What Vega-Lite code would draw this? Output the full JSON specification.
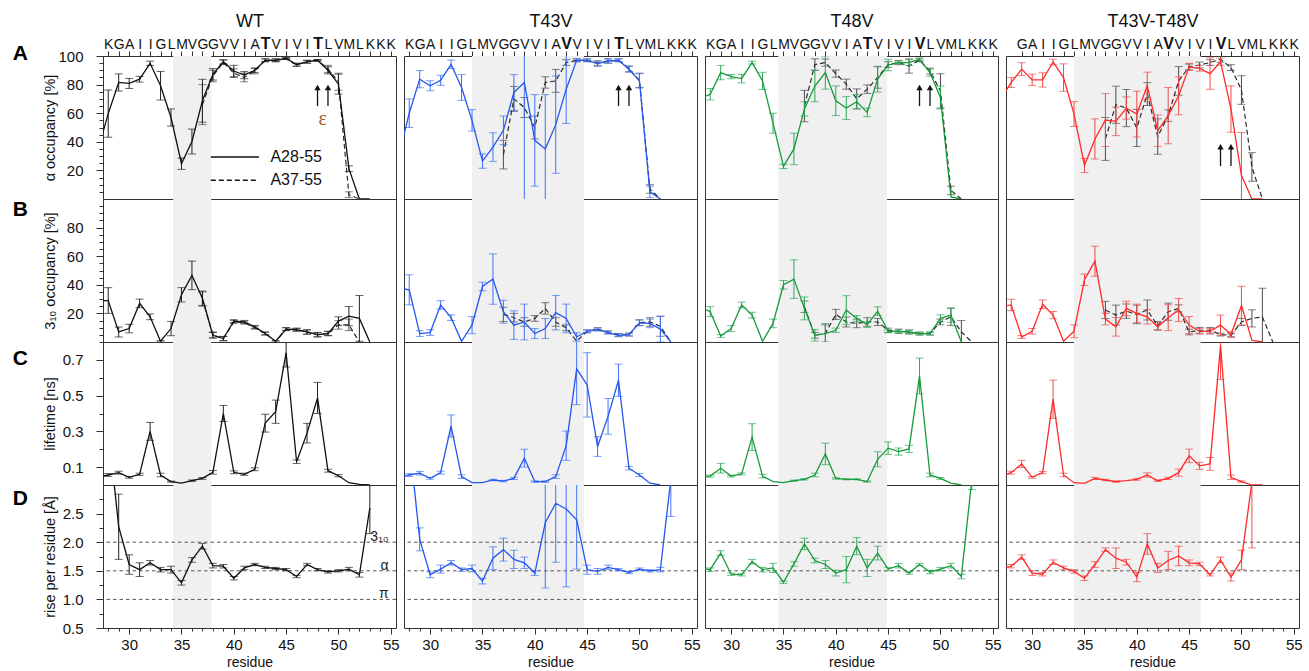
{
"$schema": "https://vega.github.io/schema/vega-lite/v6.json",
"background": "white",
"padding": {"left": 12, "top": 11, "right": 4, "bottom": 2},
"bounds": "flush",
"columns": 4,
"spacing": {"row": 0, "column": 8},
"config": {
  "font": "Liberation Sans",
  "view": {"stroke": "#333333", "strokeWidth": 1},
  "axis": {"grid": false, "domain": false, "labelColor": "#111111", "titleColor": "#111111", "tickColor": "#333333", "titleFontWeight": "normal", "labelFont": "Liberation Sans", "titleFont": "Liberation Sans"}
},
"datasets": {
"arrows": [{"r":48},{"r":49}],
"ref": [{"y":2.0,"lab":"3₁₀"},{"y":1.5,"lab":"α"},{"y":1.0,"lab":"π"}],
"WT_A_L": [{"r":27,"v":34},{"r":28,"v":59.7,"e":16.5},{"r":29,"v":81.5,"e":6},{"r":30,"v":80.8,"e":3.5},{"r":31,"v":83.8,"e":2},{"r":32,"v":94.9,"e":1.5},{"r":33,"v":79.2,"e":10},{"r":34,"v":57,"e":6},{"r":35,"v":24.7,"e":4},{"r":36,"v":40.2,"e":8.7},{"r":37,"v":68.7,"e":15},{"r":38,"v":87.2,"e":4},{"r":39,"v":96,"e":1.5},{"r":40,"v":89.5,"e":4},{"r":41,"v":86.6,"e":2.5},{"r":42,"v":90,"e":1.5},{"r":43,"v":97,"e":1},{"r":44,"v":97,"e":1},{"r":45,"v":98.4,"e":0.5},{"r":46,"v":93.8,"e":1},{"r":47,"v":96,"e":1},{"r":48,"v":97,"e":0.5},{"r":49,"v":90,"e":2.5},{"r":50,"v":80.3,"e":7},{"r":51,"v":21.2,"e":2},{"r":52,"v":0},{"r":53,"v":0}],
"WT_A_S": [{"r":37,"v":66,"e":14},{"r":38,"v":86,"e":4},{"r":39,"v":95.5,"e":1.5},{"r":40,"v":88,"e":3},{"r":41,"v":85,"e":3},{"r":42,"v":89.5,"e":2},{"r":43,"v":97,"e":1},{"r":44,"v":97,"e":1},{"r":45,"v":98,"e":0.5},{"r":46,"v":94,"e":1},{"r":47,"v":96,"e":1},{"r":48,"v":97,"e":0.5},{"r":49,"v":91,"e":2.5},{"r":50,"v":82,"e":6},{"r":51,"v":3,"e":2},{"r":52,"v":0}],
"WT_B_L": [{"r":27,"v":29},{"r":28,"v":29,"e":9},{"r":29,"v":7,"e":3.5},{"r":30,"v":9.4,"e":3},{"r":31,"v":27,"e":3},{"r":32,"v":17.6,"e":2},{"r":33,"v":0.5,"e":0.5},{"r":34,"v":9.4,"e":5},{"r":35,"v":33,"e":5},{"r":36,"v":46.6,"e":10},{"r":37,"v":30.6,"e":5},{"r":38,"v":4.7,"e":2},{"r":39,"v":2.4,"e":1.5},{"r":40,"v":14.6,"e":1},{"r":41,"v":14.1,"e":1},{"r":42,"v":10.6,"e":1},{"r":43,"v":5.9,"e":1},{"r":44,"v":0.5,"e":0.5},{"r":45,"v":9,"e":1},{"r":46,"v":8.7,"e":1},{"r":47,"v":7,"e":1.5},{"r":48,"v":5.2,"e":1.5},{"r":49,"v":5.9,"e":1.5},{"r":50,"v":14.6,"e":3},{"r":51,"v":18.1,"e":6.7},{"r":52,"v":16.5,"e":16},{"r":53,"v":0}],
"WT_B_S": [{"r":37,"v":30,"e":5},{"r":38,"v":5,"e":2},{"r":39,"v":2.4,"e":1.5},{"r":40,"v":14,"e":1},{"r":41,"v":13.5,"e":1},{"r":42,"v":10,"e":1},{"r":43,"v":6,"e":1},{"r":44,"v":0.5},{"r":45,"v":9,"e":1},{"r":46,"v":8.5,"e":1},{"r":47,"v":7,"e":1.5},{"r":48,"v":5,"e":1.5},{"r":49,"v":6,"e":1.5},{"r":50,"v":12,"e":3},{"r":51,"v":12,"e":4},{"r":52,"v":0}],
"WT_C_L": [{"r":27,"v":0.047},{"r":28,"v":0.056,"e":0.008},{"r":29,"v":0.069,"e":0.008},{"r":30,"v":0.043,"e":0.005},{"r":31,"v":0.06,"e":0.006},{"r":32,"v":0.3,"e":0.05},{"r":33,"v":0.056,"e":0.01},{"r":34,"v":0.019,"e":0.003},{"r":35,"v":0.01},{"r":36,"v":0.024,"e":0.004},{"r":37,"v":0.037,"e":0.005},{"r":38,"v":0.071,"e":0.01},{"r":39,"v":0.4,"e":0.045},{"r":40,"v":0.071,"e":0.008},{"r":41,"v":0.06,"e":0.006},{"r":42,"v":0.088,"e":0.008},{"r":43,"v":0.346,"e":0.05},{"r":44,"v":0.41,"e":0.065},{"r":45,"v":0.74,"e":0.08},{"r":46,"v":0.13,"e":0.01},{"r":47,"v":0.29,"e":0.055},{"r":48,"v":0.487,"e":0.087},{"r":49,"v":0.08,"e":0.008},{"r":50,"v":0.052,"e":0.006},{"r":51,"v":0.013},{"r":52,"v":0.004},{"r":53,"v":0}],
"WT_D_L": [{"r":28,"v":4.0},{"r":29,"v":2.27,"e":0.57},{"r":30,"v":1.61,"e":0.17},{"r":31,"v":1.52,"e":0.12},{"r":32,"v":1.64,"e":0.04},{"r":33,"v":1.52,"e":0.04},{"r":34,"v":1.52,"e":0.06},{"r":35,"v":1.29,"e":0.04},{"r":36,"v":1.69,"e":0.04},{"r":37,"v":1.93,"e":0.05},{"r":38,"v":1.59,"e":0.04},{"r":39,"v":1.58,"e":0.03},{"r":40,"v":1.37,"e":0.03},{"r":41,"v":1.55,"e":0.03},{"r":42,"v":1.61,"e":0.02},{"r":43,"v":1.56,"e":0.02},{"r":44,"v":1.54,"e":0.02},{"r":45,"v":1.52,"e":0.02},{"r":46,"v":1.4,"e":0.02},{"r":47,"v":1.61,"e":0.02},{"r":48,"v":1.52,"e":0.02},{"r":49,"v":1.48,"e":0.02},{"r":50,"v":1.5,"e":0.02},{"r":51,"v":1.53,"e":0.03},{"r":52,"v":1.43,"e":0.04},{"r":53,"v":2.6,"e":0.45}],
"T43V_A_L": [{"r":27,"v":30},{"r":28,"v":60,"e":10},{"r":29,"v":83.8,"e":6},{"r":30,"v":79.2,"e":3.5},{"r":31,"v":83,"e":3.5},{"r":32,"v":94.2,"e":3},{"r":33,"v":78,"e":9},{"r":34,"v":55,"e":7.5},{"r":35,"v":26.5,"e":5},{"r":36,"v":36.3,"e":10},{"r":37,"v":48,"e":10},{"r":38,"v":74.5,"e":12.5},{"r":39,"v":81.5,"e":85},{"r":40,"v":41,"e":32},{"r":41,"v":35,"e":38},{"r":42,"v":52,"e":34},{"r":43,"v":76.8,"e":24},{"r":44,"v":97,"e":1},{"r":45,"v":97,"e":1},{"r":46,"v":94.7,"e":2},{"r":47,"v":96.5,"e":1.5},{"r":48,"v":97,"e":1},{"r":49,"v":90.7,"e":2},{"r":50,"v":82.6,"e":5},{"r":51,"v":5,"e":4},{"r":52,"v":0}],
"T43V_A_S": [{"r":37,"v":31,"e":10},{"r":38,"v":70,"e":8.7},{"r":39,"v":64,"e":7},{"r":40,"v":50,"e":8},{"r":41,"v":81.5,"e":4},{"r":42,"v":82.6,"e":8},{"r":43,"v":95.4,"e":2},{"r":44,"v":97,"e":1},{"r":45,"v":97,"e":1},{"r":46,"v":95,"e":1.5},{"r":47,"v":96.5,"e":1.5},{"r":48,"v":97,"e":1},{"r":49,"v":91,"e":2},{"r":50,"v":83,"e":5},{"r":51,"v":7,"e":3},{"r":52,"v":0}],
"T43V_B_L": [{"r":27,"v":37.6},{"r":28,"v":36.5,"e":10.5},{"r":29,"v":5.9,"e":2},{"r":30,"v":6.6,"e":2},{"r":31,"v":25.9,"e":3},{"r":32,"v":17,"e":2},{"r":33,"v":0.5},{"r":34,"v":11.8,"e":6},{"r":35,"v":38.8,"e":3},{"r":36,"v":44,"e":17.6},{"r":37,"v":21.2,"e":8},{"r":38,"v":11.8,"e":10},{"r":39,"v":14,"e":12.5},{"r":40,"v":5.9,"e":3.5},{"r":41,"v":9.4,"e":7},{"r":42,"v":20.5,"e":12},{"r":43,"v":16.5,"e":10},{"r":44,"v":3.5,"e":3},{"r":45,"v":7.5,"e":1},{"r":46,"v":8.7,"e":1},{"r":47,"v":6.6,"e":1},{"r":48,"v":4.7,"e":1},{"r":49,"v":5.2,"e":1},{"r":50,"v":13.4,"e":2},{"r":51,"v":13,"e":3},{"r":52,"v":9,"e":9},{"r":53,"v":0}],
"T43V_B_S": [{"r":37,"v":19.3,"e":5},{"r":38,"v":17,"e":3},{"r":39,"v":14,"e":3},{"r":40,"v":16.5,"e":2},{"r":41,"v":23.5,"e":4},{"r":42,"v":14,"e":3},{"r":43,"v":10,"e":2},{"r":44,"v":0.5},{"r":45,"v":7.5,"e":1},{"r":46,"v":9,"e":1},{"r":47,"v":6.8,"e":1},{"r":48,"v":5,"e":1},{"r":49,"v":5.2,"e":1},{"r":50,"v":13.5,"e":2},{"r":51,"v":14,"e":3},{"r":52,"v":11,"e":7},{"r":53,"v":0}],
"T43V_C_L": [{"r":27,"v":0.043},{"r":28,"v":0.056,"e":0.008},{"r":29,"v":0.066,"e":0.01},{"r":30,"v":0.037,"e":0.005},{"r":31,"v":0.069,"e":0.008},{"r":32,"v":0.33,"e":0.062},{"r":33,"v":0.047,"e":0.01},{"r":34,"v":0.013},{"r":35,"v":0.013},{"r":36,"v":0.028,"e":0.004},{"r":37,"v":0.022,"e":0.004},{"r":38,"v":0.037,"e":0.006},{"r":39,"v":0.15,"e":0.05},{"r":40,"v":0.019,"e":0.004},{"r":41,"v":0.019,"e":0.004},{"r":42,"v":0.047,"e":0.01},{"r":43,"v":0.22,"e":0.082},{"r":44,"v":0.65,"e":0.2},{"r":45,"v":0.56,"e":0.18},{"r":46,"v":0.215,"e":0.055},{"r":47,"v":0.384,"e":0.1},{"r":48,"v":0.586,"e":0.09},{"r":49,"v":0.094,"e":0.01},{"r":50,"v":0.056,"e":0.008},{"r":51,"v":0.01},{"r":52,"v":0}],
"T43V_D_L": [{"r":28,"v":3.8},{"r":29,"v":2.05,"e":0.2},{"r":30,"v":1.43,"e":0.05},{"r":31,"v":1.53,"e":0.07},{"r":32,"v":1.64,"e":0.04},{"r":33,"v":1.52,"e":0.03},{"r":34,"v":1.54,"e":0.06},{"r":35,"v":1.32,"e":0.05},{"r":36,"v":1.72,"e":0.2},{"r":37,"v":1.87,"e":0.2},{"r":38,"v":1.7,"e":0.16},{"r":39,"v":1.64,"e":0.1},{"r":40,"v":1.46,"e":0.04},{"r":41,"v":2.34,"e":1.14},{"r":42,"v":2.68,"e":1.03},{"r":43,"v":2.58,"e":1.36},{"r":44,"v":2.39,"e":0.86},{"r":45,"v":1.52,"e":0.08},{"r":46,"v":1.49,"e":0.05},{"r":47,"v":1.56,"e":0.04},{"r":48,"v":1.52,"e":0.02},{"r":49,"v":1.47,"e":0.02},{"r":50,"v":1.53,"e":0.02},{"r":51,"v":1.5,"e":0.02},{"r":52,"v":1.52,"e":0.04},{"r":53,"v":3.1,"e":0.65}],
"T48V_A_L": [{"r":27,"v":69.9},{"r":28,"v":73.3,"e":4},{"r":29,"v":88.4,"e":5},{"r":30,"v":85.6,"e":1.5},{"r":31,"v":84.2,"e":3},{"r":32,"v":95.4,"e":1},{"r":33,"v":82.6,"e":6},{"r":34,"v":53,"e":7},{"r":35,"v":22.8,"e":1.5},{"r":36,"v":35,"e":11},{"r":37,"v":63,"e":5},{"r":38,"v":79,"e":11},{"r":39,"v":88.4,"e":11.6},{"r":40,"v":68.7,"e":10.4},{"r":41,"v":63.6,"e":8},{"r":42,"v":68,"e":5},{"r":43,"v":60.6,"e":3},{"r":44,"v":83.8,"e":9},{"r":45,"v":93.7,"e":4},{"r":46,"v":95.4,"e":1},{"r":47,"v":95.4,"e":2},{"r":48,"v":97.7,"e":1},{"r":49,"v":88.4,"e":2.5},{"r":50,"v":71,"e":8},{"r":51,"v":1.5},{"r":52,"v":0}],
"T48V_A_S": [{"r":37,"v":65,"e":11},{"r":38,"v":94,"e":4},{"r":39,"v":95.4,"e":2.5},{"r":40,"v":87.7,"e":2.5},{"r":41,"v":80.3,"e":3.5},{"r":42,"v":70,"e":7},{"r":43,"v":76.8,"e":3},{"r":44,"v":85,"e":7.5},{"r":45,"v":94,"e":2},{"r":46,"v":95.4,"e":1.5},{"r":47,"v":93,"e":5},{"r":48,"v":97,"e":1},{"r":49,"v":89.5,"e":2},{"r":50,"v":75.6,"e":12},{"r":51,"v":6,"e":3},{"r":52,"v":0}],
"T48V_B_L": [{"r":27,"v":24.7},{"r":28,"v":21.2,"e":3.5},{"r":29,"v":4.2,"e":1},{"r":30,"v":9.4,"e":2},{"r":31,"v":25.9,"e":2},{"r":32,"v":18.8,"e":2},{"r":33,"v":0.5},{"r":34,"v":13,"e":3},{"r":35,"v":40,"e":3},{"r":36,"v":44,"e":13.5},{"r":37,"v":23.5,"e":8},{"r":38,"v":4.7,"e":4},{"r":39,"v":5.9,"e":7},{"r":40,"v":8.2,"e":1.5},{"r":41,"v":22.4,"e":10},{"r":42,"v":16.5,"e":2},{"r":43,"v":12.2,"e":2},{"r":44,"v":21.6,"e":3},{"r":45,"v":7.5,"e":1},{"r":46,"v":7.5,"e":1},{"r":47,"v":7,"e":1},{"r":48,"v":5.9,"e":1},{"r":49,"v":5.9,"e":1},{"r":50,"v":16.5,"e":2.5},{"r":51,"v":18.8,"e":5},{"r":52,"v":0}],
"T48V_B_S": [{"r":37,"v":24.7,"e":4},{"r":38,"v":4.7,"e":2},{"r":39,"v":6,"e":6},{"r":40,"v":19.3,"e":3.5},{"r":41,"v":14,"e":3.5},{"r":42,"v":13,"e":3},{"r":43,"v":14,"e":3},{"r":44,"v":14,"e":2.5},{"r":45,"v":8.2,"e":1.5},{"r":46,"v":7.5,"e":1.5},{"r":47,"v":7,"e":1.5},{"r":48,"v":5.9,"e":1},{"r":49,"v":5.9,"e":1},{"r":50,"v":14,"e":2},{"r":51,"v":17.6,"e":6},{"r":52,"v":7,"e":8},{"r":53,"v":0}],
"T48V_C_L": [{"r":27,"v":0.047},{"r":28,"v":0.05,"e":0.006},{"r":29,"v":0.094,"e":0.027},{"r":30,"v":0.05,"e":0.005},{"r":31,"v":0.062,"e":0.006},{"r":32,"v":0.268,"e":0.075},{"r":33,"v":0.05,"e":0.01},{"r":34,"v":0.019},{"r":35,"v":0.013},{"r":36,"v":0.024,"e":0.003},{"r":37,"v":0.032,"e":0.004},{"r":38,"v":0.056,"e":0.01},{"r":39,"v":0.174,"e":0.06},{"r":40,"v":0.037,"e":0.004},{"r":41,"v":0.032,"e":0.003},{"r":42,"v":0.032,"e":0.003},{"r":43,"v":0.019,"e":0.003},{"r":44,"v":0.144,"e":0.042},{"r":45,"v":0.206,"e":0.035},{"r":46,"v":0.187,"e":0.02},{"r":47,"v":0.202,"e":0.02},{"r":48,"v":0.61,"e":0.1},{"r":49,"v":0.056,"e":0.01},{"r":50,"v":0.037,"e":0.005},{"r":51,"v":0.01},{"r":52,"v":0}],
"T48V_D_L": [{"r":27,"v":1.55},{"r":28,"v":1.52,"e":0.03},{"r":29,"v":1.81,"e":0.04},{"r":30,"v":1.44,"e":0.02},{"r":31,"v":1.43,"e":0.02},{"r":32,"v":1.66,"e":0.04},{"r":33,"v":1.52,"e":0.04},{"r":34,"v":1.55,"e":0.08},{"r":35,"v":1.3,"e":0.02},{"r":36,"v":1.62,"e":0.04},{"r":37,"v":1.97,"e":0.1},{"r":38,"v":1.68,"e":0.04},{"r":39,"v":1.61,"e":0.07},{"r":40,"v":1.46,"e":0.05},{"r":41,"v":1.52,"e":0.23},{"r":42,"v":1.93,"e":0.15},{"r":43,"v":1.55,"e":0.15},{"r":44,"v":1.81,"e":0.12},{"r":45,"v":1.53,"e":0.03},{"r":46,"v":1.59,"e":0.04},{"r":47,"v":1.46,"e":0.02},{"r":48,"v":1.61,"e":0.02},{"r":49,"v":1.48,"e":0.03},{"r":50,"v":1.53,"e":0.03},{"r":51,"v":1.59,"e":0.04},{"r":52,"v":1.4,"e":0.04},{"r":53,"v":3.1,"e":0.18}],
"DM_A_L": [{"r":27,"v":69.9},{"r":28,"v":81.5,"e":3.5},{"r":29,"v":90.8,"e":4.5},{"r":30,"v":83.3,"e":4},{"r":31,"v":83.3,"e":5},{"r":32,"v":95.8,"e":2},{"r":33,"v":84.9,"e":9.6},{"r":34,"v":59.4,"e":8.7},{"r":35,"v":23.5,"e":5},{"r":36,"v":42,"e":14},{"r":37,"v":55.2,"e":18.5},{"r":38,"v":54.3,"e":10},{"r":39,"v":63.6,"e":7.8},{"r":40,"v":59.4,"e":16},{"r":41,"v":79.2,"e":9.5},{"r":42,"v":47.8,"e":11},{"r":43,"v":58.3,"e":19.7},{"r":44,"v":72.2,"e":13.3},{"r":45,"v":92.4,"e":2.5},{"r":46,"v":91.4,"e":2},{"r":47,"v":87.7,"e":11},{"r":48,"v":96,"e":2.5},{"r":49,"v":62.9,"e":16.2},{"r":50,"v":16.5,"e":30},{"r":51,"v":0},{"r":52,"v":0}],
"DM_A_S": [{"r":37,"v":42,"e":15},{"r":38,"v":65.9,"e":13},{"r":39,"v":63.6,"e":13},{"r":40,"v":49.7,"e":13},{"r":41,"v":73.4,"e":8},{"r":42,"v":43.7,"e":12.4},{"r":43,"v":58.3,"e":4},{"r":44,"v":82.6,"e":10},{"r":45,"v":92.4,"e":2},{"r":46,"v":93.7,"e":2},{"r":47,"v":95.4,"e":2},{"r":48,"v":97.7,"e":2},{"r":49,"v":91.9,"e":2},{"r":50,"v":76.2,"e":10},{"r":51,"v":22.4,"e":10},{"r":52,"v":0}],
"DM_B_L": [{"r":27,"v":24.7},{"r":28,"v":25.9,"e":4},{"r":29,"v":3.5,"e":1},{"r":30,"v":7.5,"e":2},{"r":31,"v":26.4,"e":3},{"r":32,"v":18.8,"e":2.5},{"r":33,"v":0.5},{"r":34,"v":7.5,"e":4.5},{"r":35,"v":43.5,"e":4},{"r":36,"v":56.5,"e":10.5},{"r":37,"v":16,"e":4},{"r":38,"v":10.6,"e":6.5},{"r":39,"v":23.5,"e":5},{"r":40,"v":20,"e":6.5},{"r":41,"v":17.6,"e":5},{"r":42,"v":10.6,"e":2},{"r":43,"v":17,"e":9},{"r":44,"v":22.4,"e":8},{"r":45,"v":11.8,"e":6},{"r":46,"v":7.5,"e":2},{"r":47,"v":7.5,"e":2},{"r":48,"v":11.8,"e":7},{"r":49,"v":5.2,"e":2},{"r":50,"v":25.4,"e":13.5},{"r":51,"v":1.2},{"r":52,"v":0}],
"DM_B_S": [{"r":37,"v":22.4,"e":6},{"r":38,"v":18.8,"e":7},{"r":39,"v":21.6,"e":5},{"r":40,"v":19.3,"e":6.5},{"r":41,"v":22.4,"e":7},{"r":42,"v":11.3,"e":3},{"r":43,"v":21.2,"e":6},{"r":44,"v":23.5,"e":2.5},{"r":45,"v":7,"e":2},{"r":46,"v":8.2,"e":2},{"r":47,"v":8.2,"e":2},{"r":48,"v":5.2,"e":1},{"r":49,"v":4.7,"e":1},{"r":50,"v":14,"e":2.5},{"r":51,"v":16.5,"e":6},{"r":52,"v":17.6,"e":20},{"r":53,"v":0}],
"DM_C_L": [{"r":27,"v":0.05},{"r":28,"v":0.069,"e":0.008},{"r":29,"v":0.118,"e":0.02},{"r":30,"v":0.043,"e":0.005},{"r":31,"v":0.069,"e":0.006},{"r":32,"v":0.48,"e":0.107},{"r":33,"v":0.056,"e":0.01},{"r":34,"v":0.013},{"r":35,"v":0.009},{"r":36,"v":0.037,"e":0.006},{"r":37,"v":0.028,"e":0.004},{"r":38,"v":0.019,"e":0.004},{"r":39,"v":0.024},{"r":40,"v":0.032,"e":0.005},{"r":41,"v":0.056,"e":0.012},{"r":42,"v":0.024,"e":0.004},{"r":43,"v":0.037,"e":0.006},{"r":44,"v":0.069,"e":0.02},{"r":45,"v":0.163,"e":0.038},{"r":46,"v":0.107,"e":0.02},{"r":47,"v":0.118,"e":0.036},{"r":48,"v":0.78,"e":0.19},{"r":49,"v":0.043,"e":0.012},{"r":50,"v":0.019,"e":0.004},{"r":51,"v":0},{"r":52,"v":0}],
"DM_D_L": [{"r":27,"v":1.53},{"r":28,"v":1.58,"e":0.03},{"r":29,"v":1.74,"e":0.04},{"r":30,"v":1.46,"e":0.04},{"r":31,"v":1.44,"e":0.03},{"r":32,"v":1.65,"e":0.04},{"r":33,"v":1.55,"e":0.03},{"r":34,"v":1.49,"e":0.03},{"r":35,"v":1.37,"e":0.04},{"r":36,"v":1.61,"e":0.05},{"r":37,"v":1.87,"e":0.03},{"r":38,"v":1.72,"e":0.18},{"r":39,"v":1.65,"e":0.05},{"r":40,"v":1.39,"e":0.08},{"r":41,"v":1.97,"e":0.18},{"r":42,"v":1.55,"e":0.08},{"r":43,"v":1.68,"e":0.16},{"r":44,"v":1.76,"e":0.17},{"r":45,"v":1.64,"e":0.05},{"r":46,"v":1.62,"e":0.03},{"r":47,"v":1.43,"e":0.02},{"r":48,"v":1.69,"e":0.05},{"r":49,"v":1.39,"e":0.07},{"r":50,"v":1.69,"e":0.17},{"r":51,"v":3.05,"e":1.15}]
},
"concat": [
{"width":293,"height":143,"resolve":{"axis":{"x":"independent","y":"independent"}},"layer":[
 {"data":{"values":[{"x0":34.2,"x1":37.85}]},"mark":{"type":"rect","color":"#f0f0f0"},"encoding":{"x":{"field":"x0","type":"quantitative","scale":{"domain":[27.5,55.5],"nice":false,"zero":false},"axis":{"orient":"top","values":[28,29,30,31,32,33,34,35,36,37,38,39,40,41,42,43,44,45,46,47,48,49,50,51,52,53,54,55],"labelExpr":"substring('KGAIIGLMVGGVVIATVIVITLVMLKKK', datum.value - 28, datum.value - 27)","title":"WT","titleFontSize":18,"titlePadding":5,"labelFontSize":{"condition":{"test":"datum.value == 43 || datum.value == 48","value":16},"value":14},"labelFontWeight":{"condition":{"test":"datum.value == 43 || datum.value == 48","value":"bold"},"value":"normal"},"labelPadding":0,"tickSize":5,"labelOverlap":false,"labelFlush":false,"labelBound":false,"labelAngle":0}},"x2":{"field":"x1"}}},
 {"data":{"name":"WT_A_S"},"transform":[{"filter":"datum.e > 0"}],"mark":{"type":"errorbar","ticks":{"size":8},"color":"#4a4a4a","clip":true},"encoding":{"x":{"field":"r","type":"quantitative","axis":null},"y":{"field":"v","type":"quantitative","axis":null},"yError":{"field":"e"}}},
 {"data":{"name":"WT_A_S"},"mark":{"type":"line","color":"#2a2a2a","strokeDash":[5,3],"strokeWidth":1.2,"clip":true},"encoding":{"x":{"field":"r","type":"quantitative","axis":null},"y":{"field":"v","type":"quantitative","axis":null}}},
 {"data":{"name":"WT_A_L"},"transform":[{"filter":"datum.e > 0"}],"mark":{"type":"errorbar","ticks":{"size":8},"color":"#222222","clip":true},"encoding":{"x":{"field":"r","type":"quantitative","axis":null},"y":{"field":"v","type":"quantitative","axis":null},"yError":{"field":"e"}}},
 {"data":{"name":"WT_A_L"},"mark":{"type":"line","color":"#111111","strokeWidth":1.3,"clip":true},"encoding":{"x":{"field":"r","type":"quantitative","axis":null},"y":{"field":"v","type":"quantitative","scale":{"domain":[0,100],"nice":false,"zero":false},"axis":{"orient":"left","values":[20,40,60,80,100],"title":"α occupancy [%]","titleX":-46,"titleY":71.5,"titleAngle":270,"titleFontSize":14.5,"labelFontSize":15,"labelPadding":13,"tickSize":7}}}},
 {"data":{"values":[{}]},"mark":{"type":"text","text":"A","fontSize":21,"fontWeight":"bold","align":"left","baseline":"top","color":"#000000"},"encoding":{"x":{"datum":18.87,"type":"quantitative","axis":null},"y":{"datum":109.4,"type":"quantitative","axis":{"orient":"left","values":[5,10,15,20,25,30,35,40,45,50,55,60,65,70,75,80,85,90,95,100],"labels":false,"tickSize":4,"title":null}}}},
 {"data":{"name":"arrows"},"mark":{"type":"rule","color":"#111111","strokeWidth":1.3},"encoding":{"x":{"field":"r","type":"quantitative","axis":null},"y":{"datum":65,"type":"quantitative","axis":null},"y2":{"datum":77}}},
 {"data":{"name":"arrows"},"mark":{"type":"point","shape":"triangle-up","filled":true,"size":40,"color":"#111111","opacity":1},"encoding":{"x":{"field":"r","type":"quantitative","axis":null},"y":{"datum":78,"type":"quantitative","axis":null}}},
 {"data":{"values":[{}]},"mark":{"type":"text","text":"ε","font":"Liberation Serif","fontSize":20,"color":"#a05a1e","align":"center","baseline":"middle"},"encoding":{"x":{"datum":48.5,"type":"quantitative","axis":null},"y":{"datum":56,"type":"quantitative","axis":null}}},
 {"data":{"values":[{}]},"mark":{"type":"rule","color":"#111111","strokeWidth":1.5},"encoding":{"x":{"datum":37.8,"type":"quantitative","axis":null},"x2":{"datum":42.4},"y":{"datum":29.3,"type":"quantitative","axis":null}}},
 {"data":{"values":[{}]},"mark":{"type":"rule","color":"#111111","strokeWidth":1.5,"strokeDash":[5,3]},"encoding":{"x":{"datum":37.8,"type":"quantitative","axis":null},"x2":{"datum":42.4},"y":{"datum":13.1,"type":"quantitative","axis":null}}},
 {"data":{"values":[{}]},"mark":{"type":"text","text":"A28-55","fontSize":16,"align":"left","baseline":"middle","color":"#111111"},"encoding":{"x":{"datum":43.5,"type":"quantitative","axis":null},"y":{"datum":29.3,"type":"quantitative","axis":null}}},
 {"data":{"values":[{}]},"mark":{"type":"text","text":"A37-55","fontSize":16,"align":"left","baseline":"middle","color":"#111111"},"encoding":{"x":{"datum":43.5,"type":"quantitative","axis":null},"y":{"datum":13.1,"type":"quantitative","axis":null}}}
]},
{"width":293,"height":143,"resolve":{"axis":{"x":"independent","y":"independent"}},"layer":[
 {"data":{"values":[{"x0":34.0,"x1":44.7}]},"mark":{"type":"rect","color":"#f0f0f0"},"encoding":{"x":{"field":"x0","type":"quantitative","scale":{"domain":[27.5,55.5],"nice":false,"zero":false},"axis":{"orient":"top","values":[28,29,30,31,32,33,34,35,36,37,38,39,40,41,42,43,44,45,46,47,48,49,50,51,52,53,54,55],"labelExpr":"substring('KGAIIGLMVGGVVIAVVIVITLVMLKKK', datum.value - 28, datum.value - 27)","title":"T43V","titleFontSize":18,"titlePadding":5,"labelFontSize":{"condition":{"test":"datum.value == 43 || datum.value == 48","value":16},"value":14},"labelFontWeight":{"condition":{"test":"datum.value == 43 || datum.value == 48","value":"bold"},"value":"normal"},"labelPadding":0,"tickSize":5,"labelOverlap":false,"labelFlush":false,"labelBound":false,"labelAngle":0}},"x2":{"field":"x1"}}},
 {"data":{"name":"T43V_A_S"},"transform":[{"filter":"datum.e > 0"}],"mark":{"type":"errorbar","ticks":{"size":8},"color":"#4a4a4a","clip":true},"encoding":{"x":{"field":"r","type":"quantitative","axis":null},"y":{"field":"v","type":"quantitative","axis":null},"yError":{"field":"e"}}},
 {"data":{"name":"T43V_A_S"},"mark":{"type":"line","color":"#2a2a2a","strokeDash":[5,3],"strokeWidth":1.2,"clip":true},"encoding":{"x":{"field":"r","type":"quantitative","axis":null},"y":{"field":"v","type":"quantitative","axis":null}}},
 {"data":{"name":"T43V_A_L"},"transform":[{"filter":"datum.e > 0"}],"mark":{"type":"errorbar","ticks":{"size":8},"color":"#3f72f5","clip":true},"encoding":{"x":{"field":"r","type":"quantitative","axis":null},"y":{"field":"v","type":"quantitative","axis":null},"yError":{"field":"e"}}},
 {"data":{"name":"T43V_A_L"},"mark":{"type":"line","color":"#2456f0","strokeWidth":1.3,"clip":true},"encoding":{"x":{"field":"r","type":"quantitative","axis":null},"y":{"field":"v","type":"quantitative","scale":{"domain":[0,100],"nice":false,"zero":false},"axis":null}}},
 {"data":{"name":"arrows"},"mark":{"type":"rule","color":"#111111","strokeWidth":1.3},"encoding":{"x":{"field":"r","type":"quantitative","axis":null},"y":{"datum":65,"type":"quantitative","axis":null},"y2":{"datum":77}}},
 {"data":{"name":"arrows"},"mark":{"type":"point","shape":"triangle-up","filled":true,"size":40,"color":"#111111","opacity":1},"encoding":{"x":{"field":"r","type":"quantitative","axis":null},"y":{"datum":78,"type":"quantitative","axis":null}}}
]},
{"width":293,"height":143,"resolve":{"axis":{"x":"independent","y":"independent"}},"layer":[
 {"data":{"values":[{"x0":34.5,"x1":44.9}]},"mark":{"type":"rect","color":"#f0f0f0"},"encoding":{"x":{"field":"x0","type":"quantitative","scale":{"domain":[27.5,55.5],"nice":false,"zero":false},"axis":{"orient":"top","values":[28,29,30,31,32,33,34,35,36,37,38,39,40,41,42,43,44,45,46,47,48,49,50,51,52,53,54,55],"labelExpr":"substring('KGAIIGLMVGGVVIATVIVIVLVMLKKK', datum.value - 28, datum.value - 27)","title":"T48V","titleFontSize":18,"titlePadding":5,"labelFontSize":{"condition":{"test":"datum.value == 43 || datum.value == 48","value":16},"value":14},"labelFontWeight":{"condition":{"test":"datum.value == 43 || datum.value == 48","value":"bold"},"value":"normal"},"labelPadding":0,"tickSize":5,"labelOverlap":false,"labelFlush":false,"labelBound":false,"labelAngle":0}},"x2":{"field":"x1"}}},
 {"data":{"name":"T48V_A_S"},"transform":[{"filter":"datum.e > 0"}],"mark":{"type":"errorbar","ticks":{"size":8},"color":"#4a4a4a","clip":true},"encoding":{"x":{"field":"r","type":"quantitative","axis":null},"y":{"field":"v","type":"quantitative","axis":null},"yError":{"field":"e"}}},
 {"data":{"name":"T48V_A_S"},"mark":{"type":"line","color":"#2a2a2a","strokeDash":[5,3],"strokeWidth":1.2,"clip":true},"encoding":{"x":{"field":"r","type":"quantitative","axis":null},"y":{"field":"v","type":"quantitative","axis":null}}},
 {"data":{"name":"T48V_A_L"},"transform":[{"filter":"datum.e > 0"}],"mark":{"type":"errorbar","ticks":{"size":8},"color":"#2aa856","clip":true},"encoding":{"x":{"field":"r","type":"quantitative","axis":null},"y":{"field":"v","type":"quantitative","axis":null},"yError":{"field":"e"}}},
 {"data":{"name":"T48V_A_L"},"mark":{"type":"line","color":"#179a3a","strokeWidth":1.3,"clip":true},"encoding":{"x":{"field":"r","type":"quantitative","axis":null},"y":{"field":"v","type":"quantitative","scale":{"domain":[0,100],"nice":false,"zero":false},"axis":null}}},
 {"data":{"name":"arrows"},"mark":{"type":"rule","color":"#111111","strokeWidth":1.3},"encoding":{"x":{"field":"r","type":"quantitative","axis":null},"y":{"datum":65,"type":"quantitative","axis":null},"y2":{"datum":77}}},
 {"data":{"name":"arrows"},"mark":{"type":"point","shape":"triangle-up","filled":true,"size":40,"color":"#111111","opacity":1},"encoding":{"x":{"field":"r","type":"quantitative","axis":null},"y":{"datum":78,"type":"quantitative","axis":null}}}
]},
{"width":293,"height":143,"resolve":{"axis":{"x":"independent","y":"independent"}},"layer":[
 {"data":{"values":[{"x0":34.0,"x1":46.1}]},"mark":{"type":"rect","color":"#f0f0f0"},"encoding":{"x":{"field":"x0","type":"quantitative","scale":{"domain":[27.5,55.5],"nice":false,"zero":false},"axis":{"orient":"top","values":[29,30,31,32,33,34,35,36,37,38,39,40,41,42,43,44,45,46,47,48,49,50,51,52,53,54,55],"labelExpr":"substring('KGAIIGLMVGGVVIAVVIVIVLVMLKKK', datum.value - 28, datum.value - 27)","title":"T43V-T48V","titleFontSize":18,"titlePadding":5,"labelFontSize":{"condition":{"test":"datum.value == 43 || datum.value == 48","value":16},"value":14},"labelFontWeight":{"condition":{"test":"datum.value == 43 || datum.value == 48","value":"bold"},"value":"normal"},"labelPadding":0,"tickSize":5,"labelOverlap":false,"labelFlush":false,"labelBound":false,"labelAngle":0}},"x2":{"field":"x1"}}},
 {"data":{"name":"DM_A_S"},"transform":[{"filter":"datum.e > 0"}],"mark":{"type":"errorbar","ticks":{"size":8},"color":"#4a4a4a","clip":true},"encoding":{"x":{"field":"r","type":"quantitative","axis":null},"y":{"field":"v","type":"quantitative","axis":null},"yError":{"field":"e"}}},
 {"data":{"name":"DM_A_S"},"mark":{"type":"line","color":"#2a2a2a","strokeDash":[5,3],"strokeWidth":1.2,"clip":true},"encoding":{"x":{"field":"r","type":"quantitative","axis":null},"y":{"field":"v","type":"quantitative","axis":null}}},
 {"data":{"name":"DM_A_L"},"transform":[{"filter":"datum.e > 0"}],"mark":{"type":"errorbar","ticks":{"size":8},"color":"#f04848","clip":true},"encoding":{"x":{"field":"r","type":"quantitative","axis":null},"y":{"field":"v","type":"quantitative","axis":null},"yError":{"field":"e"}}},
 {"data":{"name":"DM_A_L"},"mark":{"type":"line","color":"#ff2a2a","strokeWidth":1.3,"clip":true},"encoding":{"x":{"field":"r","type":"quantitative","axis":null},"y":{"field":"v","type":"quantitative","scale":{"domain":[0,100],"nice":false,"zero":false},"axis":null}}},
 {"data":{"name":"arrows"},"mark":{"type":"rule","color":"#111111","strokeWidth":1.3},"encoding":{"x":{"field":"r","type":"quantitative","axis":null},"y":{"datum":23,"type":"quantitative","axis":null},"y2":{"datum":35}}},
 {"data":{"name":"arrows"},"mark":{"type":"point","shape":"triangle-up","filled":true,"size":40,"color":"#111111","opacity":1},"encoding":{"x":{"field":"r","type":"quantitative","axis":null},"y":{"datum":36.5,"type":"quantitative","axis":null}}}
]},
{"width":293,"height":143,"resolve":{"axis":{"x":"independent","y":"independent"}},"layer":[
 {"data":{"values":[{"x0":34.2,"x1":37.85}]},"mark":{"type":"rect","color":"#f0f0f0"},"encoding":{"x":{"field":"x0","type":"quantitative","scale":{"domain":[27.5,55.5],"nice":false,"zero":false},"axis":null},"x2":{"field":"x1"}}},
 {"data":{"name":"WT_B_S"},"transform":[{"filter":"datum.e > 0"}],"mark":{"type":"errorbar","ticks":{"size":8},"color":"#4a4a4a","clip":true},"encoding":{"x":{"field":"r","type":"quantitative","axis":null},"y":{"field":"v","type":"quantitative","axis":null},"yError":{"field":"e"}}},
 {"data":{"name":"WT_B_S"},"mark":{"type":"line","color":"#2a2a2a","strokeDash":[5,3],"strokeWidth":1.2,"clip":true},"encoding":{"x":{"field":"r","type":"quantitative","axis":null},"y":{"field":"v","type":"quantitative","axis":null}}},
 {"data":{"name":"WT_B_L"},"transform":[{"filter":"datum.e > 0"}],"mark":{"type":"errorbar","ticks":{"size":8},"color":"#222222","clip":true},"encoding":{"x":{"field":"r","type":"quantitative","axis":null},"y":{"field":"v","type":"quantitative","axis":null},"yError":{"field":"e"}}},
 {"data":{"name":"WT_B_L"},"mark":{"type":"line","color":"#111111","strokeWidth":1.3,"clip":true},"encoding":{"x":{"field":"r","type":"quantitative","axis":null},"y":{"field":"v","type":"quantitative","scale":{"domain":[0,100],"nice":false,"zero":false},"axis":{"orient":"left","values":[20,40,60,80],"title":"3₁₀ occupancy [%]","titleX":-46,"titleY":71.5,"titleAngle":270,"titleFontSize":14.5,"labelFontSize":15,"labelPadding":13,"tickSize":7}}}},
 {"data":{"values":[{}]},"mark":{"type":"text","text":"B","fontSize":21,"fontWeight":"bold","align":"left","baseline":"top","color":"#000000"},"encoding":{"x":{"datum":18.87,"type":"quantitative","axis":null},"y":{"datum":99.9,"type":"quantitative","axis":{"orient":"left","values":[5,10,15,20,25,30,35,40,45,50,55,60,65,70,75,80,85,90,95],"labels":false,"tickSize":4,"title":null}}}}
]},
{"width":293,"height":143,"layer":[
 {"data":{"values":[{"x0":34.0,"x1":44.7}]},"mark":{"type":"rect","color":"#f0f0f0"},"encoding":{"x":{"field":"x0","type":"quantitative","scale":{"domain":[27.5,55.5],"nice":false,"zero":false},"axis":null},"x2":{"field":"x1"}}},
 {"data":{"name":"T43V_B_S"},"transform":[{"filter":"datum.e > 0"}],"mark":{"type":"errorbar","ticks":{"size":8},"color":"#4a4a4a","clip":true},"encoding":{"x":{"field":"r","type":"quantitative","axis":null},"y":{"field":"v","type":"quantitative","axis":null},"yError":{"field":"e"}}},
 {"data":{"name":"T43V_B_S"},"mark":{"type":"line","color":"#2a2a2a","strokeDash":[5,3],"strokeWidth":1.2,"clip":true},"encoding":{"x":{"field":"r","type":"quantitative","axis":null},"y":{"field":"v","type":"quantitative","axis":null}}},
 {"data":{"name":"T43V_B_L"},"transform":[{"filter":"datum.e > 0"}],"mark":{"type":"errorbar","ticks":{"size":8},"color":"#3f72f5","clip":true},"encoding":{"x":{"field":"r","type":"quantitative","axis":null},"y":{"field":"v","type":"quantitative","axis":null},"yError":{"field":"e"}}},
 {"data":{"name":"T43V_B_L"},"mark":{"type":"line","color":"#2456f0","strokeWidth":1.3,"clip":true},"encoding":{"x":{"field":"r","type":"quantitative","axis":null},"y":{"field":"v","type":"quantitative","scale":{"domain":[0,100],"nice":false,"zero":false},"axis":null}}}
]},
{"width":293,"height":143,"layer":[
 {"data":{"values":[{"x0":34.5,"x1":44.9}]},"mark":{"type":"rect","color":"#f0f0f0"},"encoding":{"x":{"field":"x0","type":"quantitative","scale":{"domain":[27.5,55.5],"nice":false,"zero":false},"axis":null},"x2":{"field":"x1"}}},
 {"data":{"name":"T48V_B_S"},"transform":[{"filter":"datum.e > 0"}],"mark":{"type":"errorbar","ticks":{"size":8},"color":"#4a4a4a","clip":true},"encoding":{"x":{"field":"r","type":"quantitative","axis":null},"y":{"field":"v","type":"quantitative","axis":null},"yError":{"field":"e"}}},
 {"data":{"name":"T48V_B_S"},"mark":{"type":"line","color":"#2a2a2a","strokeDash":[5,3],"strokeWidth":1.2,"clip":true},"encoding":{"x":{"field":"r","type":"quantitative","axis":null},"y":{"field":"v","type":"quantitative","axis":null}}},
 {"data":{"name":"T48V_B_L"},"transform":[{"filter":"datum.e > 0"}],"mark":{"type":"errorbar","ticks":{"size":8},"color":"#2aa856","clip":true},"encoding":{"x":{"field":"r","type":"quantitative","axis":null},"y":{"field":"v","type":"quantitative","axis":null},"yError":{"field":"e"}}},
 {"data":{"name":"T48V_B_L"},"mark":{"type":"line","color":"#179a3a","strokeWidth":1.3,"clip":true},"encoding":{"x":{"field":"r","type":"quantitative","axis":null},"y":{"field":"v","type":"quantitative","scale":{"domain":[0,100],"nice":false,"zero":false},"axis":null}}}
]},
{"width":293,"height":143,"layer":[
 {"data":{"values":[{"x0":34.0,"x1":46.1}]},"mark":{"type":"rect","color":"#f0f0f0"},"encoding":{"x":{"field":"x0","type":"quantitative","scale":{"domain":[27.5,55.5],"nice":false,"zero":false},"axis":null},"x2":{"field":"x1"}}},
 {"data":{"name":"DM_B_S"},"transform":[{"filter":"datum.e > 0"}],"mark":{"type":"errorbar","ticks":{"size":8},"color":"#4a4a4a","clip":true},"encoding":{"x":{"field":"r","type":"quantitative","axis":null},"y":{"field":"v","type":"quantitative","axis":null},"yError":{"field":"e"}}},
 {"data":{"name":"DM_B_S"},"mark":{"type":"line","color":"#2a2a2a","strokeDash":[5,3],"strokeWidth":1.2,"clip":true},"encoding":{"x":{"field":"r","type":"quantitative","axis":null},"y":{"field":"v","type":"quantitative","axis":null}}},
 {"data":{"name":"DM_B_L"},"transform":[{"filter":"datum.e > 0"}],"mark":{"type":"errorbar","ticks":{"size":8},"color":"#f04848","clip":true},"encoding":{"x":{"field":"r","type":"quantitative","axis":null},"y":{"field":"v","type":"quantitative","axis":null},"yError":{"field":"e"}}},
 {"data":{"name":"DM_B_L"},"mark":{"type":"line","color":"#ff2a2a","strokeWidth":1.3,"clip":true},"encoding":{"x":{"field":"r","type":"quantitative","axis":null},"y":{"field":"v","type":"quantitative","scale":{"domain":[0,100],"nice":false,"zero":false},"axis":null}}}
]},
{"width":293,"height":143,"resolve":{"axis":{"x":"independent","y":"independent"}},"layer":[
 {"data":{"values":[{"x0":34.2,"x1":37.85}]},"mark":{"type":"rect","color":"#f0f0f0"},"encoding":{"x":{"field":"x0","type":"quantitative","scale":{"domain":[27.5,55.5],"nice":false,"zero":false},"axis":null},"x2":{"field":"x1"}}},
 {"data":{"name":"WT_C_L"},"transform":[{"filter":"datum.e > 0"}],"mark":{"type":"errorbar","ticks":{"size":8},"color":"#222222","clip":true},"encoding":{"x":{"field":"r","type":"quantitative","axis":null},"y":{"field":"v","type":"quantitative","axis":null},"yError":{"field":"e"}}},
 {"data":{"name":"WT_C_L"},"mark":{"type":"line","color":"#111111","strokeWidth":1.3,"clip":true},"encoding":{"x":{"field":"r","type":"quantitative","axis":null},"y":{"field":"v","type":"quantitative","scale":{"domain":[0,0.8],"nice":false,"zero":false},"axis":{"orient":"left","values":[0.1,0.3,0.5,0.7],"format":".1f","title":"lifetime [ns]","titleX":-46,"titleY":71.5,"titleAngle":270,"titleFontSize":14.5,"labelFontSize":15,"labelPadding":13,"tickSize":7}}}},
 {"data":{"values":[{}]},"mark":{"type":"text","text":"C","fontSize":21,"fontWeight":"bold","align":"left","baseline":"top","color":"#000000"},"encoding":{"x":{"datum":18.87,"type":"quantitative","axis":null},"y":{"datum":0.767,"type":"quantitative","axis":{"orient":"left","values":[0.2,0.4,0.6,0.8],"labels":false,"tickSize":4,"title":null}}}}
]},
{"width":293,"height":143,"layer":[
 {"data":{"values":[{"x0":34.0,"x1":44.7}]},"mark":{"type":"rect","color":"#f0f0f0"},"encoding":{"x":{"field":"x0","type":"quantitative","scale":{"domain":[27.5,55.5],"nice":false,"zero":false},"axis":null},"x2":{"field":"x1"}}},
 {"data":{"name":"T43V_C_L"},"transform":[{"filter":"datum.e > 0"}],"mark":{"type":"errorbar","ticks":{"size":8},"color":"#3f72f5","clip":true},"encoding":{"x":{"field":"r","type":"quantitative","axis":null},"y":{"field":"v","type":"quantitative","axis":null},"yError":{"field":"e"}}},
 {"data":{"name":"T43V_C_L"},"mark":{"type":"line","color":"#2456f0","strokeWidth":1.3,"clip":true},"encoding":{"x":{"field":"r","type":"quantitative","axis":null},"y":{"field":"v","type":"quantitative","scale":{"domain":[0,0.8],"nice":false,"zero":false},"axis":null}}}
]},
{"width":293,"height":143,"layer":[
 {"data":{"values":[{"x0":34.5,"x1":44.9}]},"mark":{"type":"rect","color":"#f0f0f0"},"encoding":{"x":{"field":"x0","type":"quantitative","scale":{"domain":[27.5,55.5],"nice":false,"zero":false},"axis":null},"x2":{"field":"x1"}}},
 {"data":{"name":"T48V_C_L"},"transform":[{"filter":"datum.e > 0"}],"mark":{"type":"errorbar","ticks":{"size":8},"color":"#2aa856","clip":true},"encoding":{"x":{"field":"r","type":"quantitative","axis":null},"y":{"field":"v","type":"quantitative","axis":null},"yError":{"field":"e"}}},
 {"data":{"name":"T48V_C_L"},"mark":{"type":"line","color":"#179a3a","strokeWidth":1.3,"clip":true},"encoding":{"x":{"field":"r","type":"quantitative","axis":null},"y":{"field":"v","type":"quantitative","scale":{"domain":[0,0.8],"nice":false,"zero":false},"axis":null}}}
]},
{"width":293,"height":143,"layer":[
 {"data":{"values":[{"x0":34.0,"x1":46.1}]},"mark":{"type":"rect","color":"#f0f0f0"},"encoding":{"x":{"field":"x0","type":"quantitative","scale":{"domain":[27.5,55.5],"nice":false,"zero":false},"axis":null},"x2":{"field":"x1"}}},
 {"data":{"name":"DM_C_L"},"transform":[{"filter":"datum.e > 0"}],"mark":{"type":"errorbar","ticks":{"size":8},"color":"#f04848","clip":true},"encoding":{"x":{"field":"r","type":"quantitative","axis":null},"y":{"field":"v","type":"quantitative","axis":null},"yError":{"field":"e"}}},
 {"data":{"name":"DM_C_L"},"mark":{"type":"line","color":"#ff2a2a","strokeWidth":1.3,"clip":true},"encoding":{"x":{"field":"r","type":"quantitative","axis":null},"y":{"field":"v","type":"quantitative","scale":{"domain":[0,0.8],"nice":false,"zero":false},"axis":null}}}
]},
{"width":293,"height":143,"resolve":{"axis":{"x":"independent","y":"independent"}},"layer":[
 {"data":{"values":[{"x0":34.2,"x1":37.85}]},"mark":{"type":"rect","color":"#f0f0f0"},"encoding":{"x":{"field":"x0","type":"quantitative","scale":{"domain":[27.5,55.5],"nice":false,"zero":false},"axis":{"orient":"bottom","values":[30,35,40,45,50,55],"title":"residue","titleFontSize":14,"titlePadding":3,"labelFontSize":15,"labelPadding":3,"tickSize":6,"labelFlush":false,"labelOverlap":false}},"x2":{"field":"x1"}}},
 {"data":{"name":"ref"},"mark":{"type":"rule","color":"#555555","strokeDash":[3.5,3],"strokeWidth":1},"encoding":{"y":{"field":"y","type":"quantitative","axis":null}}},
 {"data":{"name":"ref"},"mark":{"type":"text","align":"right","baseline":"alphabetic","dy":-1,"fontSize":14,"color":"#222222"},"encoding":{"x":{"datum":54.8,"type":"quantitative","axis":null},"y":{"field":"y","type":"quantitative","axis":null},"text":{"field":"lab"}}},
 {"data":{"name":"WT_D_L"},"transform":[{"filter":"datum.e > 0"}],"mark":{"type":"errorbar","ticks":{"size":8},"color":"#222222","clip":true},"encoding":{"x":{"field":"r","type":"quantitative","axis":null},"y":{"field":"v","type":"quantitative","axis":null},"yError":{"field":"e"}}},
 {"data":{"name":"WT_D_L"},"mark":{"type":"line","color":"#111111","strokeWidth":1.3,"clip":true},"encoding":{"x":{"field":"r","type":"quantitative","axis":{"orient":"bottom","values":[28,29,30,31,32,33,34,35,36,37,38,39,40,41,42,43,44,45,46,47,48,49,50,51,52,53,54,55],"labels":false,"tickSize":3,"title":null}},"y":{"field":"v","type":"quantitative","scale":{"domain":[0.5,3.0],"nice":false,"zero":false},"axis":{"orient":"left","values":[0.5,1.0,1.5,2.0,2.5],"format":".1f","title":"rise per residue  [Å]","titleX":-46,"titleY":71.5,"titleAngle":270,"titleFontSize":14.5,"labelFontSize":15,"labelPadding":13,"tickSize":7}}}},
 {"data":{"values":[{}]},"mark":{"type":"text","text":"D","fontSize":21,"fontWeight":"bold","align":"left","baseline":"top","color":"#000000"},"encoding":{"x":{"datum":18.87,"type":"quantitative","axis":null},"y":{"datum":2.939,"type":"quantitative","axis":{"orient":"left","values":[0.75,1.25,1.75,2.25,2.75],"labels":false,"tickSize":4,"title":null}}}}
]},
{"width":293,"height":143,"resolve":{"axis":{"x":"independent","y":"independent"}},"layer":[
 {"data":{"values":[{"x0":34.0,"x1":44.7}]},"mark":{"type":"rect","color":"#f0f0f0"},"encoding":{"x":{"field":"x0","type":"quantitative","scale":{"domain":[27.5,55.5],"nice":false,"zero":false},"axis":{"orient":"bottom","values":[30,35,40,45,50,55],"title":"residue","titleFontSize":14,"titlePadding":3,"labelFontSize":15,"labelPadding":3,"tickSize":6,"labelFlush":false,"labelOverlap":false}},"x2":{"field":"x1"}}},
 {"data":{"name":"ref"},"mark":{"type":"rule","color":"#555555","strokeDash":[3.5,3],"strokeWidth":1},"encoding":{"y":{"field":"y","type":"quantitative","axis":null}}},
 {"data":{"name":"T43V_D_L"},"transform":[{"filter":"datum.e > 0"}],"mark":{"type":"errorbar","ticks":{"size":8},"color":"#3f72f5","clip":true},"encoding":{"x":{"field":"r","type":"quantitative","axis":null},"y":{"field":"v","type":"quantitative","axis":null},"yError":{"field":"e"}}},
 {"data":{"name":"T43V_D_L"},"mark":{"type":"line","color":"#2456f0","strokeWidth":1.3,"clip":true},"encoding":{"x":{"field":"r","type":"quantitative","axis":{"orient":"bottom","values":[28,29,30,31,32,33,34,35,36,37,38,39,40,41,42,43,44,45,46,47,48,49,50,51,52,53,54,55],"labels":false,"tickSize":3,"title":null}},"y":{"field":"v","type":"quantitative","scale":{"domain":[0.5,3.0],"nice":false,"zero":false},"axis":null}}}
]},
{"width":293,"height":143,"resolve":{"axis":{"x":"independent","y":"independent"}},"layer":[
 {"data":{"values":[{"x0":34.5,"x1":44.9}]},"mark":{"type":"rect","color":"#f0f0f0"},"encoding":{"x":{"field":"x0","type":"quantitative","scale":{"domain":[27.5,55.5],"nice":false,"zero":false},"axis":{"orient":"bottom","values":[30,35,40,45,50,55],"title":"residue","titleFontSize":14,"titlePadding":3,"labelFontSize":15,"labelPadding":3,"tickSize":6,"labelFlush":false,"labelOverlap":false}},"x2":{"field":"x1"}}},
 {"data":{"name":"ref"},"mark":{"type":"rule","color":"#555555","strokeDash":[3.5,3],"strokeWidth":1},"encoding":{"y":{"field":"y","type":"quantitative","axis":null}}},
 {"data":{"name":"T48V_D_L"},"transform":[{"filter":"datum.e > 0"}],"mark":{"type":"errorbar","ticks":{"size":8},"color":"#2aa856","clip":true},"encoding":{"x":{"field":"r","type":"quantitative","axis":null},"y":{"field":"v","type":"quantitative","axis":null},"yError":{"field":"e"}}},
 {"data":{"name":"T48V_D_L"},"mark":{"type":"line","color":"#179a3a","strokeWidth":1.3,"clip":true},"encoding":{"x":{"field":"r","type":"quantitative","axis":{"orient":"bottom","values":[28,29,30,31,32,33,34,35,36,37,38,39,40,41,42,43,44,45,46,47,48,49,50,51,52,53,54,55],"labels":false,"tickSize":3,"title":null}},"y":{"field":"v","type":"quantitative","scale":{"domain":[0.5,3.0],"nice":false,"zero":false},"axis":null}}}
]},
{"width":293,"height":143,"resolve":{"axis":{"x":"independent","y":"independent"}},"layer":[
 {"data":{"values":[{"x0":34.0,"x1":46.1}]},"mark":{"type":"rect","color":"#f0f0f0"},"encoding":{"x":{"field":"x0","type":"quantitative","scale":{"domain":[27.5,55.5],"nice":false,"zero":false},"axis":{"orient":"bottom","values":[30,35,40,45,50,55],"title":"residue","titleFontSize":14,"titlePadding":3,"labelFontSize":15,"labelPadding":3,"tickSize":6,"labelFlush":false,"labelOverlap":false}},"x2":{"field":"x1"}}},
 {"data":{"name":"ref"},"mark":{"type":"rule","color":"#555555","strokeDash":[3.5,3],"strokeWidth":1},"encoding":{"y":{"field":"y","type":"quantitative","axis":null}}},
 {"data":{"name":"DM_D_L"},"transform":[{"filter":"datum.e > 0"}],"mark":{"type":"errorbar","ticks":{"size":8},"color":"#f04848","clip":true},"encoding":{"x":{"field":"r","type":"quantitative","axis":null},"y":{"field":"v","type":"quantitative","axis":null},"yError":{"field":"e"}}},
 {"data":{"name":"DM_D_L"},"mark":{"type":"line","color":"#ff2a2a","strokeWidth":1.3,"clip":true},"encoding":{"x":{"field":"r","type":"quantitative","axis":{"orient":"bottom","values":[28,29,30,31,32,33,34,35,36,37,38,39,40,41,42,43,44,45,46,47,48,49,50,51,52,53,54,55],"labels":false,"tickSize":3,"title":null}},"y":{"field":"v","type":"quantitative","scale":{"domain":[0.5,3.0],"nice":false,"zero":false},"axis":null}}}
]}
]
}
